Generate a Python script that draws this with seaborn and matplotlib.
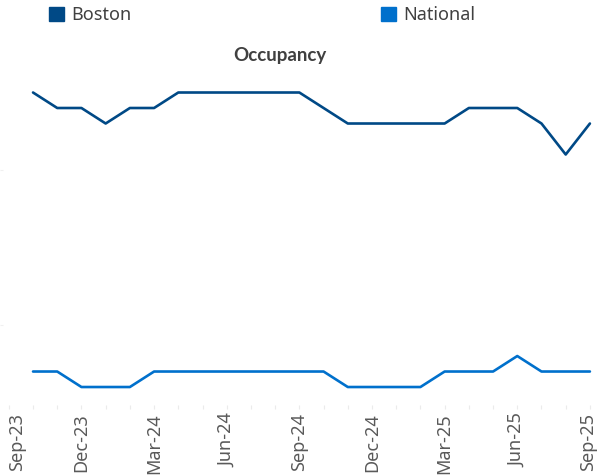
import matplotlib
matplotlib.use("Agg")
import matplotlib.pyplot as plt
import matplotlib.transforms as mtransforms
from matplotlib.patches import Patch
import pandas as pd
import seaborn as sns

# ── Data (occupancy %, Oct-23 .. Sep-25) ───────────────────────────────────
month_labels = pd.date_range("2023-09-01", periods=25, freq="MS").strftime("%b-%y").tolist()
boston   = [85, 84, 84, 83, 84, 84, 85, 85, 85, 85, 85, 85,
            84, 83, 83, 83, 83, 83, 84, 84, 84, 83, 81, 83]
national = [67, 67, 66, 66, 66, 67, 67, 67, 67, 67, 67, 67,
            67, 66, 66, 66, 66, 67, 67, 67, 68, 67, 67, 67]

C_BOSTON   = "#004986"
C_NATIONAL = "#0070cc"
TXT        = "#404040"

df = pd.DataFrame({"idx": range(1, 25), "Boston": boston, "National": national})
df = df.melt(id_vars="idx", var_name="series", value_name="occ")

sns.set_theme(style="white")
plt.rcParams["font.family"] = ["Noto Sans", "DejaVu Sans"]

fig = plt.figure(figsize=(5.97, 4.75), dpi=100)
ax = fig.add_axes([3 / 597, 70 / 475, 592 / 597, 390 / 475])

sns.lineplot(data=df, x="idx", y="occ", hue="series",
             palette={"Boston": C_BOSTON, "National": C_NATIONAL},
             linewidth=1.9, legend=False, ax=ax)

ax.set_xlim(-0.24, 24.21)
ax.set_ylim(64.84, 90.0)
ax.set_xlabel("")
ax.set_ylabel("")

ax.set_xticks(range(25))
ax.set_xticklabels([m if i % 3 == 0 else "" for i, m in enumerate(month_labels)])
ax.tick_params(axis="x", bottom=True, length=3, width=0.8, color="#ebebeb",
               labelsize=13, labelcolor="#595959", rotation=90, pad=3)
ax.set_yticks([70, 80])
ax.set_yticklabels([])
ax.tick_params(axis="y", left=True, length=2.5, width=0.8, color="#f0f0f0")

# Excel keeps the end labels inside the chart
labels = ax.get_xticklabels()
labels[0].set_transform(labels[0].get_transform() +
                        mtransforms.ScaledTranslation(0.08, 0, fig.dpi_scale_trans))
labels[-1].set_transform(labels[-1].get_transform() +
                         mtransforms.ScaledTranslation(-0.02, 0, fig.dpi_scale_trans))

for s in ax.spines.values():
    s.set_visible(False)

fig.text(280 / 597, 1 - 55 / 475, "Occupancy", ha="center", va="center",
         fontsize=13.5, fontweight="bold", color=TXT, family=["Lato", "DejaVu Sans"])

handles = [Patch(color=C_BOSTON, label="Boston"),
           Patch(color=C_NATIONAL, label="National")]
fig.legend(handles=handles, loc="upper left", bbox_to_anchor=(49 / 597, 1 - 6 / 475),
           ncol=2, frameon=False, fontsize=13, handlelength=0.85, handleheight=0.85,
           handletextpad=0.4, columnspacing=13.8, borderpad=0, borderaxespad=0,
           labelcolor=TXT)

fig.savefig("out.png", dpi=100)
